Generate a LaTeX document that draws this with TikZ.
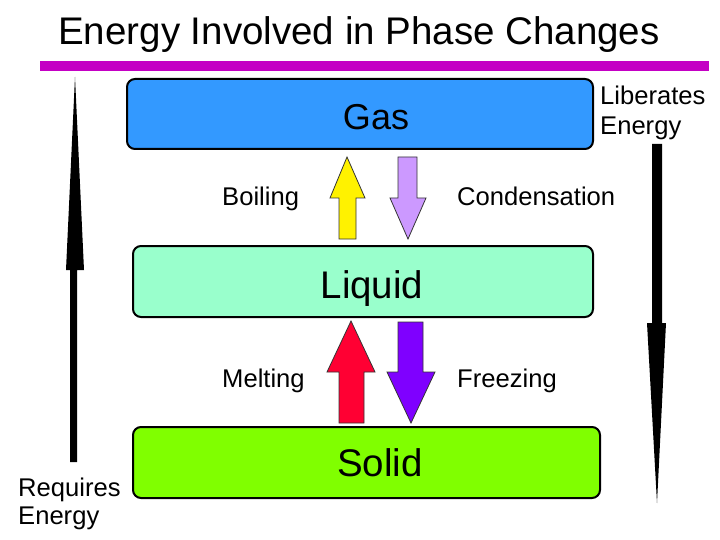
\documentclass[tikz,border=0pt]{standalone}
\usepackage{fontspec}
\setmainfont{Liberation Sans}
\definecolor{gasblue}{HTML}{3399FF}
\definecolor{liqgreen}{HTML}{99FFCC}
\definecolor{solgreen}{HTML}{80FF00}
\definecolor{lavender}{HTML}{CC99FF}
\definecolor{redarr}{HTML}{FF0033}
\definecolor{purplearr}{HTML}{7F00FF}
\definecolor{magline}{HTML}{C400C4}
\begin{document}
\begin{tikzpicture}[x=1pt,y=-1pt,
  phasebox/.style={draw=black, line width=2pt, rounded corners=8pt, inner sep=0pt},
  phasetext/.style={inner sep=0pt, anchor=base, font=\fontsize{36}{40}\selectfont},
  lbl/.style={inner sep=0pt, anchor=base west, font=\fontsize{25.6}{30}\selectfont},
  blockarrow/.style={draw=black!80, line width=0.8pt},
  spike/.style={fill=black}]
\useasboundingbox (0,0) rectangle (720,540);
% title
\node[inner sep=0pt, anchor=base, font=\fontsize{38.5}{42}\selectfont] (title) at (359,45) {Energy Involved in Phase Changes};
\coordinate (ruleL) at (40,66);
\coordinate (ruleR) at (709,66);
\draw[magline, line width=10pt] (ruleL) -- (ruleR);
% boxes
\node[phasebox, fill=gasblue, minimum width=466pt, minimum height=70pt] (gas) at (360,114) {};
\node[phasebox, fill=liqgreen, minimum width=460pt, minimum height=71pt] (liquid) at (363,281.5) {};
\node[phasebox, fill=solgreen, minimum width=467pt, minimum height=71pt] (solid) at (366.5,462.5) {};
\node[phasetext] (gast) at (376,130) {Gas};
\node[phasetext, font=\fontsize{38.5}{42}\selectfont] (liqt) at (372,298) {Liquid};
\node[phasetext, font=\fontsize{38.5}{42}\selectfont] (solt) at (380,476) {Solid};
% block arrows
\draw[blockarrow, fill=yellow] (339,239) -- (339,198) -- (330,198) -- (347,157) -- (365,198) -- (356,198) -- (356,239) -- cycle;
\draw[blockarrow, fill=lavender] (398,157) -- (417,157) -- (417,198) -- (426,198) -- (408,239) -- (390,198) -- (398,198) -- cycle;
\draw[blockarrow, fill=redarr] (339,423) -- (339,372) -- (327,372) -- (351,321) -- (375,372) -- (364,372) -- (364,423) -- cycle;
\draw[blockarrow, fill=purplearr] (398,322) -- (423,322) -- (423,372) -- (435,372) -- (411,423) -- (387,372) -- (398,372) -- cycle;
% labels
\node[lbl] (boil) at (222,206) {Boiling};
\node[lbl] (cond) at (457,206) {Condensation};
\node[lbl] (melt) at (222,387) {Melting};
\node[lbl] (freeze) at (457,387) {Freezing};
\node[lbl] (lib1) at (600,105) {Liberates};
\node[lbl] (lib2) at (600,135) {Energy};
\node[lbl] (req1) at (18,496) {Requires};
\node[lbl] (req2) at (18,524) {Energy};
% energy arrows
\fill[spike] (75,77) -- (84,270) -- (77,270) -- (77,462) -- (70,462) -- (70,270) -- (66,270) -- cycle;
\fill[spike] (652,144) -- (662,144) -- (662,323) -- (666,323) -- (657,503) -- (647,323) -- (652,323) -- cycle;
\end{tikzpicture}
\end{document}
